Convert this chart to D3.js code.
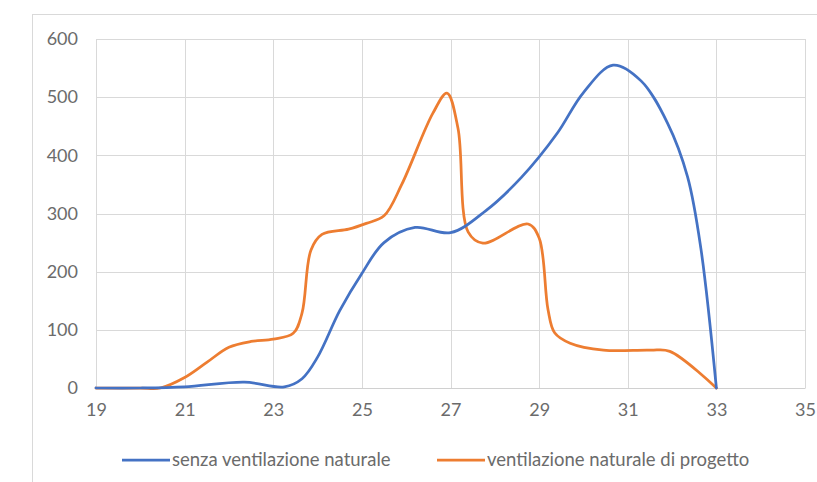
<!DOCTYPE html>
<html>
<head>
<meta charset="utf-8">
<script src="https://cdn.jsdelivr.net/npm/d3@7"></script>
<style>
  html, body { margin: 0; padding: 0; background: #ffffff; }
  svg { display: block; }
  text { font-family: Lato, "Open Sans", sans-serif; fill: #6b6b6b; }
</style>
</head>
<body>
<svg id="chart" width="817" height="482"></svg>
<script>
// Temperature (°C) on x, hours on y — smoothed scatter series
const seriesNames = ["senza ventilazione naturale", "ventilazione naturale di progetto"];
const seriesColors = ["#4472C4", "#ED7D31"];

const bluX = [19, 20, 21, 22.35, 23.25, 23.65, 24, 24.5, 25, 25.5, 26.2, 27, 27.8, 28.6, 29.4, 30, 30.67, 31.3, 31.9, 32.35, 32.65, 33];
const bluY = [0, 0, 2, 10, 2, 16, 53, 133, 197, 250, 276, 267, 305, 362, 437, 508, 555, 528, 455, 363, 240, 0];

const arancioX = [19, 20, 20.45, 21, 21.5, 22, 22.5, 23, 23.45, 23.65, 23.85, 24.1, 24.7, 25.1, 25.5, 25.9, 26.6, 26.92, 27.17, 27.4, 27.73, 28.75, 29, 29.2, 29.35, 29.7, 30.45, 31.5, 31.95, 33];
const arancioY = [0, 0, 0, 18, 44, 70, 80, 84, 94, 129, 237, 264, 273, 283, 296, 350, 472, 507, 446, 268, 249, 282, 258, 135, 95, 77, 65, 65, 63, 0];

const xTicks = [19, 21, 23, 25, 27, 29, 31, 33, 35];
const yTicks = [0, 100, 200, 300, 400, 500, 600];

const svg = d3.select("#chart");

// chart frame
svg.append("rect")
  .attr("x", 32.5).attr("y", 14.5)
  .attr("width", 800).attr("height", 480)
  .attr("fill", "none").attr("stroke", "#d9d9d9").attr("stroke-width", 1);

const x = d3.scaleLinear().domain([19, 35]).range([96, 805]);
const y = d3.scaleLinear().domain([0, 600]).range([388, 39]);

// gridlines
const grid = svg.append("g");
grid.selectAll("line.h").data(yTicks).join("line")
  .attr("class", "h")
  .attr("x1", x(19)).attr("x2", x(35))
  .attr("y1", d => Math.round(y(d)) + 0.5).attr("y2", d => Math.round(y(d)) + 0.5)
  .attr("stroke", "#d9d9d9").attr("stroke-width", 1);
grid.selectAll("line.v").data(xTicks).join("line")
  .attr("class", "v")
  .attr("y1", y(0)).attr("y2", y(600))
  .attr("x1", d => Math.round(x(d)) + 0.5).attr("x2", d => Math.round(x(d)) + 0.5)
  .attr("stroke", "#d9d9d9").attr("stroke-width", 1);

// axes (labels only; Excel style)
const xAxis = svg.append("g")
  .attr("transform", `translate(0,${y(0)})`)
  .call(d3.axisBottom(x).tickValues(xTicks).tickSize(0).tickPadding(15));
xAxis.select(".domain").attr("stroke", "#d0d0d0");
xAxis.selectAll("text").style("font-size", "18px").attr("fill", "#6b6b6b")
  .style("font-family", "Lato, 'Open Sans', sans-serif");

const yAxis = svg.append("g")
  .attr("transform", `translate(${x(19)},0)`)
  .call(d3.axisLeft(y).tickValues(yTicks).tickSize(0).tickPadding(18));
yAxis.select(".domain").remove();
yAxis.selectAll("text").style("font-size", "18px").attr("fill", "#6b6b6b")
  .style("font-family", "Lato, 'Open Sans', sans-serif");

// series: smoothed lines through the points
const line = d3.line()
  .x(d => x(d[0])).y(d => y(d[1]))
  .curve(d3.curveCatmullRom.alpha(0.5));

const series = [
  d3.zip(arancioX, arancioY),
  d3.zip(bluX, bluY)
];
const colorsDrawn = [seriesColors[1], seriesColors[0]];

svg.append("g").selectAll("path").data(series).join("path")
  .attr("d", line)
  .attr("fill", "none")
  .attr("stroke", (d, i) => colorsDrawn[i])
  .attr("stroke-width", 2.75)
  .attr("stroke-linejoin", "round")
  .attr("stroke-linecap", "round");

// legend
const legendY = 460;
const legendItems = [
  { name: seriesNames[0], color: seriesColors[0], x: 122 },
  { name: seriesNames[1], color: seriesColors[1], x: 437 }
];
const lg = svg.append("g").selectAll("g").data(legendItems).join("g")
  .attr("transform", d => `translate(${d.x},${legendY})`);
lg.append("line")
  .attr("x1", 0).attr("x2", 48).attr("y1", 0).attr("y2", 0)
  .attr("stroke", d => d.color).attr("stroke-width", 2.75);
lg.append("text")
  .attr("x", 50).attr("y", 0).attr("dy", "0.35em")
  .style("font-size", "18.5px")
  .text(d => d.name);
</script>
</body>
</html>
